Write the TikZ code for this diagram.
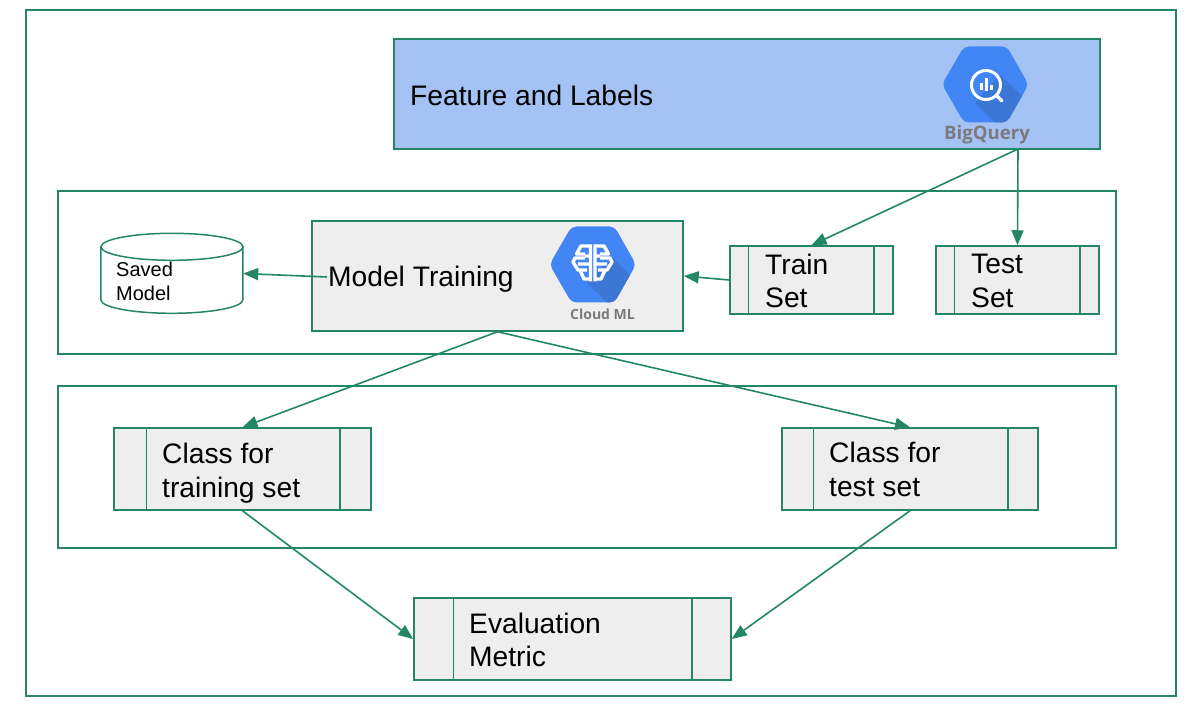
\documentclass[tikz,border=0pt]{standalone}
\usepackage{fontspec}
\setmainfont{Liberation Sans}
\newfontfamily\logofont{Open Sans}
\usetikzlibrary{arrows.meta,calc}
\definecolor{linegreen}{HTML}{248763}
\definecolor{boxgrey}{HTML}{EEEEEE}
\definecolor{paleblue}{HTML}{A4C2F4}
\definecolor{logoblue}{HTML}{4285F4}
\definecolor{logoshade}{HTML}{3D77D6}
\definecolor{logotext}{HTML}{7B7B7B}
\tikzset{
  frame/.style={draw=linegreen,line width=1.5pt,fill=none,rectangle},
  procbox/.style={draw=linegreen,line width=1.5pt,fill=boxgrey,rectangle,inner sep=0pt},
  bigtext/.style={anchor=west,align=left,inner sep=0pt,font=\fontsize{28.2}{33.5}\selectfont},
  smalltext/.style={anchor=west,align=left,inner sep=0pt,font=\fontsize{20}{24}\selectfont},
  flow/.style={draw=linegreen,line width=1.6pt,-{Triangle[length=15pt,width=12pt]}},
  rule/.style={draw=linegreen,line width=1.5pt},
  logolabel/.style={inner sep=0pt,text=logotext,font=\logofont\bfseries},
  glyph/.style={draw=white,line width=3.4pt,line cap=butt,line join=round},
}
% Box given by its corners, with a vertical rule inset from each side
\newcommand{\sidebox}[7]{%
  \node[procbox,minimum width=#4pt-#2pt,minimum height=#5pt-#3pt] (#1) at ({(#2+#4)/2},{(#3+#5)/2}) {};
  \draw[rule] ([xshift=#6pt]#1.north west) -- ([xshift=#6pt]#1.south west);
  \draw[rule] ([xshift=-#7pt]#1.north east) -- ([xshift=-#7pt]#1.south east);
}
% Rounded hexagon used behind both product logos
\newcommand{\hexpath}[1]{%
  [rounded corners=5pt] (#1) ++(-43,0) -- ++(22,-38) -- ++(43,0) -- ++(21.5,38) -- ++(-21.5,38) -- ++(-43,0) -- cycle
}
\begin{document}
\begin{tikzpicture}[x=1pt,y=-1pt]
\useasboundingbox (0,0) rectangle (1200,711);

% Enclosing frames
\node[frame,minimum width=1150pt,minimum height=686pt] (outer) at (601,353) {};
\node[frame,minimum width=1058pt,minimum height=163pt] (trainpanel) at (587,272.5) {};
\node[frame,minimum width=1058pt,minimum height=162pt] (classpanel) at (587,467) {};

% Feature store
\node[draw=linegreen,line width=1.5pt,fill=paleblue,rectangle,minimum width=706pt,minimum height=110pt] (features) at (747,94) {};
\node[bigtext] (featuretext) at (410,95) {Feature and Labels};
\coordinate (bqc) at (985,84.5);
\begin{scope}
  \clip \hexpath{bqc};
  \fill[logoblue] (900,30) rectangle (1060,140);
  \fill[logoshade] (1000,75) -- (1040,113) -- (1040,140) -- (1012,140) -- (975,103) -- cycle;
\end{scope}
\draw[white,line width=3pt] (986,85) circle (14.5);
\draw[white,line width=3.4pt,line cap=round] (997,96) -- (1002,101);
\fill[white] (979.5,83) rectangle (982.5,90.5);
\fill[white] (984.5,78) rectangle (987.5,91);
\fill[white] (989.5,85) rectangle (992.5,90.5);
\node[logolabel,font=\logofont\bfseries\fontsize{18.6}{22}\selectfont] (bqlabel) at (987,135) {BigQuery};

% Training stage
\node[procbox,minimum width=371pt,minimum height=110pt] (model) at (497.5,276) {};
\node[bigtext] (modeltext) at (328,279.5) {Model Training};
\coordinate (mlc) at (592.5,264.5);
\begin{scope}
  \clip \hexpath{mlc};
  \fill[logoblue] (520,210) rectangle (660,320);
  \fill[logoshade] (613,258) -- (650,295) -- (650,320) -- (625,320) -- (587,283) -- cycle;
\end{scope}
\draw[glyph]
  (590.5,244.5) -- (590.5,281.5) (595,244.5) -- (595,281.5)
  (591,246) -- (581,246) -- (576.5,254) -- (585,254)
  (591,256) -- (585,256)
  (585,258) -- (575,258) -- (573,262) -- (578,270) -- (587,270)
  (578,264) -- (591,264)
  (580,270) -- (584,279) -- (591,279)
  (594.5,246) -- (604,246) -- (608.5,254) -- (600,254)
  (594.5,256) -- (600,256)
  (600,258) -- (610,258) -- (612,262) -- (607,270) -- (598,270)
  (607,264) -- (594.5,264)
  (605,270) -- (601,279) -- (594.5,279);
\node[logolabel,font=\logofont\bfseries\fontsize{14}{17}\selectfont] (mllabel) at (602.5,314) {Cloud ML};

% Saved model store
\node[rectangle,inner sep=0pt,minimum width=142pt,minimum height=80pt] (saved) at (172,273.5) {};
\draw[rule,fill=white] ($(saved.north west)+(0,13.5)$) -- ++(0,53)
  arc[start angle=180,end angle=360,x radius=71,y radius=-13.5] -- ++(0,-53);
\draw[rule,fill=white] ($(saved.north)+(0,13.5)$) ellipse (71 and 13.5);
\node[smalltext] (savedtext) at (116,281) {Saved\\Model};

\sidebox{trainset}{730}{246}{893}{314}{19}{20}
\node[bigtext] (traintext) at (765,281) {Train\\Set};
\sidebox{testset}{936}{246}{1099}{314}{19}{20}
\node[bigtext] (testtext) at (971,281) {Test\\Set};

% Class outputs
\sidebox{classtrain}{114}{428}{371}{510}{33}{32}
\node[bigtext] (classtraintext) at (162,473) {Class for\\training set};
\sidebox{classtest}{782}{428}{1038}{510}{32}{31}
\node[bigtext] (classtesttext) at (829,469.5) {Class for\\test set};

% Final metric
\sidebox{metric}{414}{598}{731}{680}{40}{40}
\node[bigtext] (metrictext) at (469,640) {Evaluation\\Metric};

% Connectors
\coordinate (split) at (1018,149);
\coordinate (modelout) at (327,277);
\draw[flow] (split) -- (trainset.north);
\draw[flow] (split) -- (testset.north);
\draw[flow] (trainset.west) -- (model.east);
\draw[flow] (modelout) -- (saved.east);
\draw[flow] (model.south) -- (classtrain.north);
\draw[flow] (model.south) -- (classtest.north);
\draw[flow] (classtrain.south) -- (metric.west);
\draw[flow] (classtest.south) -- (metric.east);
\end{tikzpicture}
\end{document}
